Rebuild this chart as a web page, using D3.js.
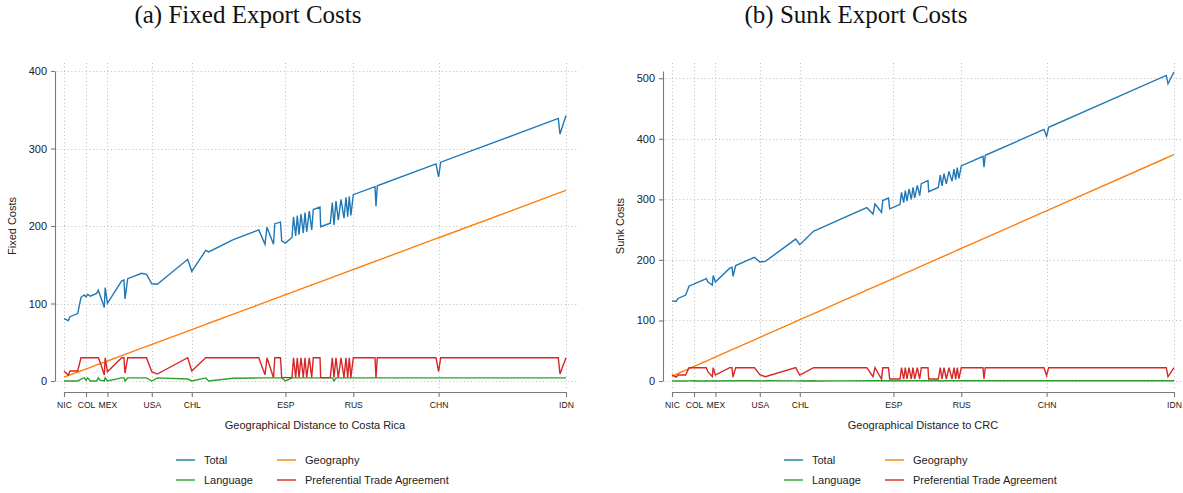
<!DOCTYPE html>
<html>
<head>
<meta charset="utf-8">
<script src="https://cdn.jsdelivr.net/npm/d3@7"></script>
<style>
  html, body { margin: 0; padding: 0; background: #fff; }
  svg { display: block; }
</style>
</head>
<body>
<svg id="chart" width="1183" height="493"></svg>
<script>
// Distance from Costa Rica (km) of each partner country, sorted
const countryDistance = [350, 512, 577, 867, 992, 1116, 1181, 1245, 1343, 1584,
  1645, 1709, 1871, 1905, 1988, 2528, 2615, 2653, 2755, 3283,
  3464, 3664, 3872, 5020, 5174, 5699, 5812, 6741, 7704, 7938,
  8013, 8259, 8308, 8523, 8568, 8708, 8957, 9014, 9097, 9157,
  9221, 9297, 9384, 9448, 9512, 9610, 9701, 9761, 10014, 10040,
  10403, 10478, 10543, 10618, 10705, 10807, 10920, 10996, 11060, 11120,
  11180, 11271, 12090, 12128, 12177, 14393, 14491, 14570, 19010, 19074, 19301];

// Labelled countries on the distance axis
const tickCountries = ["NIC", "COL", "MEX", "USA", "CHL", "ESP", "RUS", "CHN", "IDN"];
const tickDistance = [350, 1181, 1988, 3664, 5174, 8708, 11271, 14491, 19301];

// (a) Fixed export costs and their components
const fixedTotal = [80.4, 78, 83, 87, 108, 111, 108.5, 111.8, 109.5, 113,
  117, 111, 94.8, 120.5, 100.2, 129.2, 130.3, 106, 132, 139,
  137.5, 125.5, 124.8, 157, 141.5, 168.5, 166.5, 182.5, 195, 176.3,
  198.5, 176.4, 203, 205, 181, 178, 185.2, 211.7, 187.2, 213.5,
  188.8, 215.3, 190.9, 217.2, 192.5, 219.2, 194.9, 221.2, 224.4, 199,
  203.6, 230.3, 201.4, 232.1, 207.5, 234.5, 210.2, 236.9, 212, 238.4,
  213.5, 240.4, 250.8, 225.3, 251.9, 280.1, 263.3, 282.3, 338.8, 318.6, 342.5];
const fixedGeography = [5.0, 7.1, 7.9, 11.6, 13.2, 14.7, 15.6, 16.4, 17.6, 20.7,
  21.5, 22.3, 24.3, 24.8, 25.8, 32.7, 33.8, 34.3, 35.6, 42.3,
  44.6, 47.1, 49.8, 64.4, 66.3, 73.0, 74.5, 86.3, 98.5, 101.5,
  102.4, 105.6, 106.2, 108.9, 109.5, 111.3, 114.4, 115.2, 116.2, 117.0,
  117.8, 118.8, 119.9, 120.7, 121.5, 122.7, 123.9, 124.7, 127.9, 128.2,
  132.8, 133.8, 134.6, 135.6, 136.7, 138.0, 139.4, 140.4, 141.2, 141.9,
  142.7, 143.9, 154.3, 154.8, 155.4, 183.6, 184.8, 185.8, 242.3, 243.1, 246.0];
const fixedLanguage = [0, 0, 0, 0, 2.5, 4, 1, 4, 0, 0,
  4, 1, 0, 4, 0, 4, 4, 0, 4, 4,
  4, 0, 4, 2.5, 0, 4, 0, 3.5, 4, 4,
  4, 4, 4, 4, 4, 0, 4, 4, 4, 4,
  4, 4, 4, 4, 4, 4, 4, 4, 4, 4,
  4, 4, 0, 4, 4, 4, 4, 4, 4, 4,
  4, 4, 4, 4, 4, 4, 4, 4, 4, 4, 4];
const fixedPTA = [12.9, 7.7, 12.9, 12.9, 30, 30, 30, 30, 30, 30,
  30, 25, 7.7, 30, 12, 30, 30, 10, 30, 30,
  30, 12, 9, 30, 13, 30, 30, 30, 30, 8,
  30, 4.3, 30, 30, 4.3, 4.3, 4.3, 30, 4.5, 30,
  4.5, 30, 4.5, 30, 4.5, 30, 4.5, 30, 30, 4.3,
  4.3, 30, 4.3, 30, 4.3, 30, 4.3, 30, 4.3, 30,
  4.3, 30, 30, 4, 30, 30, 12, 30, 30, 9, 30];

// (b) Sunk export costs and their components
const sunkTotal = [131.9, 131.6, 136.3, 141.9, 156.6, 159.1, 160.1, 161.6, 163.2, 167.8,
  169.3, 163.3, 158.6, 174.3, 163.5, 186.4, 188.0, 173.0, 190.7, 200.9,
  204.4, 196.5, 197.5, 234.4, 225.1, 247.6, 249.5, 267.6, 286.3, 275.8,
  292.3, 278.3, 298.0, 302.1, 284.3, 286.7, 291.8, 311.6, 294.5, 314.4,
  296.9, 317.1, 300.0, 320.0, 302.5, 323.1, 306.2, 326.0, 330.9, 312.7,
  319.7, 339.9, 322.1, 342.6, 325.6, 346.2, 329.7, 349.9, 332.4, 352.3,
  334.8, 355.2, 371.0, 353.0, 372.7, 415.5, 404.4, 418.9, 504.6, 490.9, 510.3];
const sunkGeography = [8.0, 11.1, 12.4, 18.0, 20.4, 22.8, 24.0, 25.3, 27.2, 31.8,
  33.0, 34.2, 37.4, 38.0, 39.6, 50.1, 51.7, 52.5, 54.4, 64.6,
  68.1, 72.0, 76.0, 98.2, 101.2, 111.3, 113.5, 131.4, 150.0, 154.5,
  156.0, 160.7, 161.7, 165.8, 166.7, 169.4, 174.2, 175.3, 176.9, 178.1,
  179.3, 180.8, 182.4, 183.7, 184.9, 186.8, 188.6, 189.7, 194.6, 195.1,
  202.1, 203.6, 204.8, 206.3, 208.0, 209.9, 212.1, 213.6, 214.8, 216.0,
  217.2, 218.9, 234.7, 235.4, 236.4, 279.2, 281.1, 282.6, 368.3, 369.6, 374.0];
const sunkLanguage = [0, 0, 0, 0, 0.2, 0.3, 0.1, 0.3, 0, 0,
  0.3, 0.1, 0, 0.3, 0, 0.3, 0.3, 0, 0.3, 0.3,
  0.3, 0, 0.3, 0.2, 0, 0.3, 0, 0.2, 0.3, 0.3,
  0.3, 0.3, 0.3, 0.3, 0.3, 0, 0.3, 0.3, 0.3, 0.3,
  0.3, 0.3, 0.3, 0.3, 0.3, 0.3, 0.3, 0.3, 0.3, 0.3,
  0.3, 0.3, 0, 0.3, 0.3, 0.3, 0.3, 0.3, 0.3, 0.3,
  0.3, 0.3, 0.3, 0.3, 0.3, 0.3, 0.3, 0.3, 0.3, 0.3, 0.3];
const sunkPTA = [9.9, 6.5, 9.9, 9.9, 22, 22, 22, 22, 22, 22,
  22, 15, 7.2, 22, 9.9, 22, 22, 6.5, 22, 22,
  22, 10.5, 7.2, 22, 9.9, 22, 22, 22, 22, 7,
  22, 3.3, 22, 22, 3.3, 3.3, 3.3, 22, 3.3, 22,
  3.3, 22, 3.3, 22, 3.3, 22, 3.3, 22, 22, 3.3,
  3.3, 22, 3.3, 22, 3.3, 22, 3.3, 22, 3.3, 22,
  3.3, 22, 22, 3.3, 22, 22, 9, 22, 22, 7, 22];

const fixedTicks = [0, 100, 200, 300, 400];
const sunkTicks = [0, 100, 200, 300, 400, 500];

const seriesNames = ["Total", "Geography", "Language", "Preferential Trade Agreement"];
const seriesColors = ["#1f77b4", "#ff7f0e", "#2ca02c", "#d62728"];

const svg = d3.select("#chart");
svg.append("rect").attr("width", 1183).attr("height", 493).attr("fill", "#fff");

const SANS = "'Liberation Sans', Arial, Helvetica, sans-serif";

function drawPanel(opt) {
  const off = opt.offset;
  const g = svg.append("g");

  const x = d3.scaleLinear()
    .domain([d3.min(countryDistance), d3.max(countryDistance)])
    .range([64 + off, 566 + off]);
  const y = d3.scaleLinear().domain([0, opt.yMax]).range([381, 71]);

  // panel title
  g.append("text")
    .attr("x", 248 + off).attr("y", 23)
    .attr("text-anchor", "middle")
    .attr("font-family", "'Liberation Serif', 'Times New Roman', serif")
    .attr("font-size", 25).attr("fill", "#111")
    .text(opt.title);

  // dotted grid
  const grid = g.append("g").attr("stroke", "#bdbdbd").attr("stroke-width", 1)
    .attr("stroke-dasharray", "1,2.6").attr("fill", "none");
  opt.yTicks.forEach(v => {
    grid.append("line")
      .attr("x1", 57 + off).attr("x2", 577 + off)
      .attr("y1", Math.round(y(v)) + 0.5).attr("y2", Math.round(y(v)) + 0.5);
  });
  tickDistance.forEach(d => {
    grid.append("line")
      .attr("x1", Math.round(x(d)) + 0.5).attr("x2", Math.round(x(d)) + 0.5)
      .attr("y1", 63).attr("y2", 389);
  });

  // series lines
  const line = d3.line().x((d, i) => x(countryDistance[i])).y(d => y(d));
  opt.series.forEach((vals, k) => {
    g.append("path")
      .datum(vals)
      .attr("fill", "none")
      .attr("stroke", seriesColors[k])
      .attr("stroke-width", 1.4)
      .attr("stroke-linejoin", "miter")
      .attr("d", line);
  });

  // y axis
  const ya = g.append("g").attr("transform", `translate(${55 + off},0)`)
    .call(d3.axisLeft(y).tickValues(opt.yTicks).tickSize(4).tickSizeOuter(0).tickPadding(4));
  // x axis
  const xa = g.append("g").attr("transform", "translate(0,392)")
    .call(d3.axisBottom(x).tickValues(tickDistance)
      .tickFormat((d, i) => tickCountries[i]).tickSize(5).tickSizeOuter(0).tickPadding(5));

  [ya, xa].forEach(a => {
    a.selectAll("path.domain").attr("stroke", "#7a7a7a").attr("stroke-width", 1.1);
    a.selectAll(".tick line").attr("stroke", "#7a7a7a").attr("stroke-width", 1.1);
    a.selectAll(".tick text").attr("fill", "#222").attr("font-family", SANS);
  });
  ya.selectAll(".tick text").attr("font-size", 11);
  xa.selectAll(".tick text").attr("font-size", 8.6);

  // axis titles
  g.append("text")
    .attr("x", 315 + off).attr("y", 429)
    .attr("text-anchor", "middle")
    .attr("font-family", SANS).attr("font-size", 11).attr("fill", "#222")
    .text(opt.xTitle);
  g.append("text")
    .attr("transform", `translate(${16 + off},226) rotate(-90)`)
    .attr("text-anchor", "middle")
    .attr("font-family", SANS).attr("font-size", 11).attr("fill", "#222")
    .text(opt.yTitle);

  // legend (two columns, two rows)
  const legendPos = [[176, 460], [277, 460], [176, 480], [277, 480]];
  const legendOrder = [0, 1, 2, 3];
  legendOrder.forEach((k, j) => {
    const [lx, ly] = legendPos[j];
    g.append("line")
      .attr("x1", lx + off).attr("x2", lx + 19 + off)
      .attr("y1", ly).attr("y2", ly)
      .attr("stroke", seriesColors[k]).attr("stroke-width", 1.4);
    g.append("text")
      .attr("x", lx + 28 + off).attr("y", ly + 4)
      .attr("font-family", SANS).attr("font-size", 11).attr("fill", "#222")
      .text(seriesNames[k]);
  });
}

drawPanel({
  offset: 0,
  title: "(a) Fixed Export Costs",
  yTitle: "Fixed Costs",
  xTitle: "Geographical Distance to Costa Rica",
  yMax: 400,
  yTicks: fixedTicks,
  series: [fixedTotal, fixedGeography, fixedLanguage, fixedPTA]
});

drawPanel({
  offset: 608,
  title: "(b) Sunk Export Costs",
  yTitle: "Sunk Costs",
  xTitle: "Geographical Distance to CRC",
  yMax: 512,
  yTicks: sunkTicks,
  series: [sunkTotal, sunkGeography, sunkLanguage, sunkPTA]
});
</script>
</body>
</html>
